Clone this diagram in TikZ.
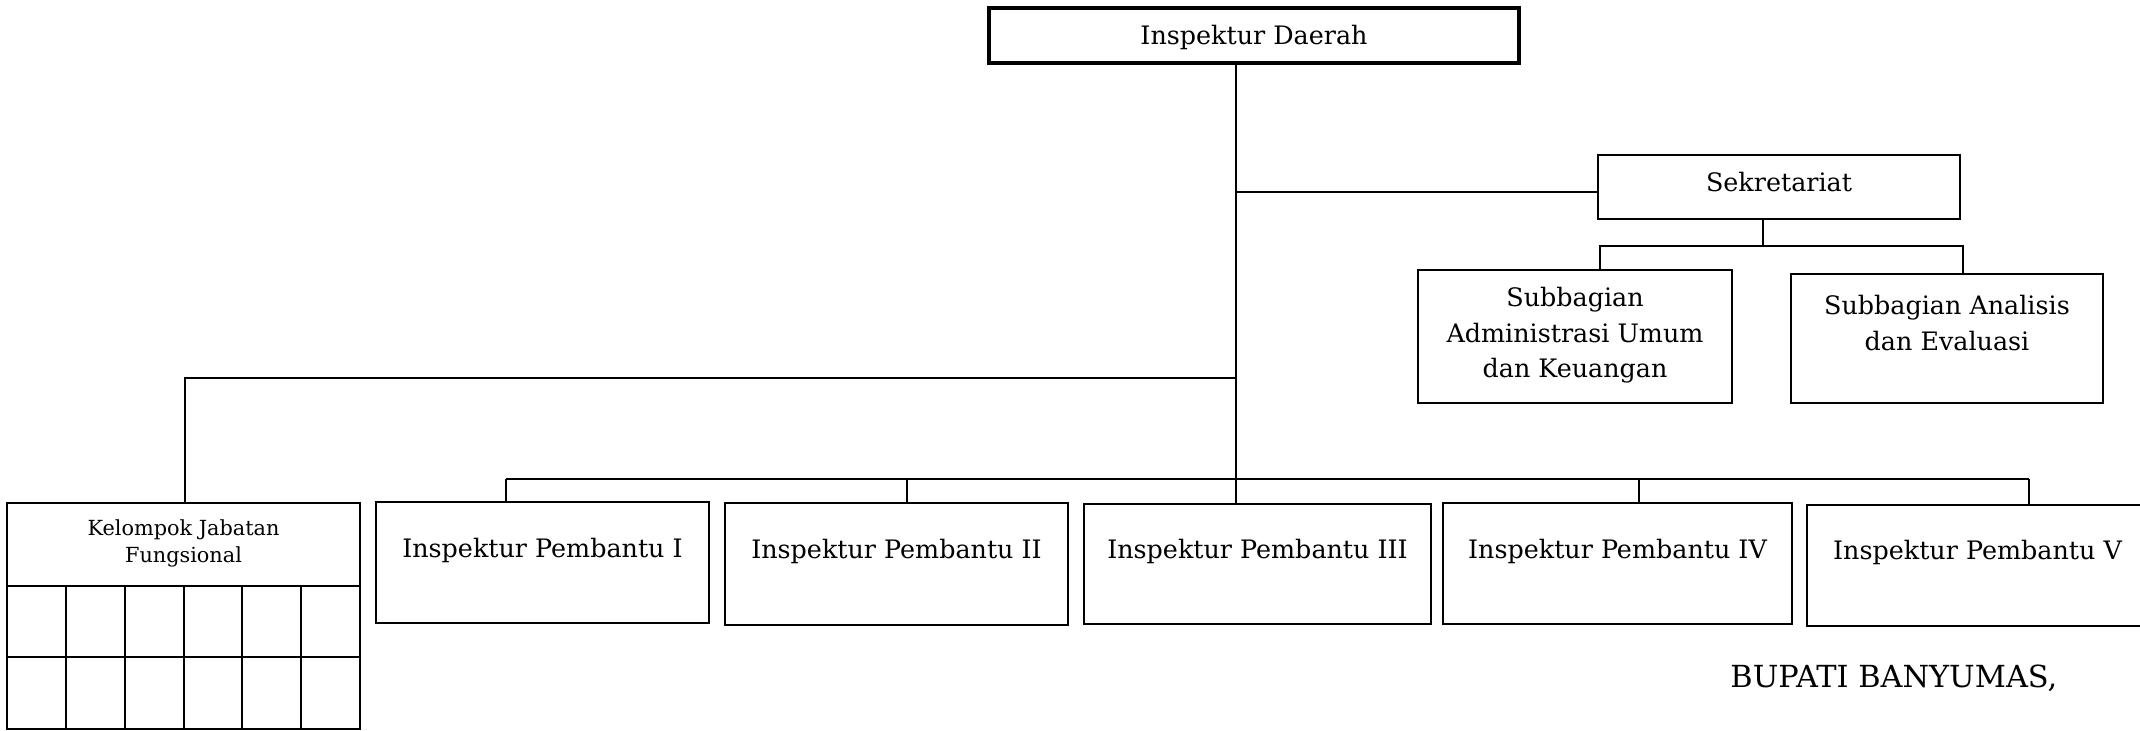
\documentclass[tikz,border=0pt]{standalone}
\usepackage{fontspec}
\setmainfont{DejaVu Serif}
\newcommand{\onel}[2]{\raisebox{#1}[0pt][0pt]{#2}}
\newcommand{\mlines}[2]{\raisebox{#1}[0pt][0pt]{\begin{tabular}[t]{@{}c@{}}#2\end{tabular}}}
\begin{document}
\begin{tikzpicture}[x=0.5pt,y=-0.5pt,
  box/.style={draw, line width=1.45pt, rectangle, inner sep=0pt, outer sep=0pt,
    font=\fontsize{12.7}{17.75}\selectfont},
  link/.style={line width=1.3pt},
  gridline/.style={line width=1.45pt}]
\useasboundingbox (0,0) rectangle (2140,731);
\clip (0,0) rectangle (2140,731);

% boxes
\node[box, line width=2.35pt, minimum width=265pt, minimum height=27.5pt] (dae) at (1254,35.5) {\onel{-4.75pt}{Inspektur Daerah}};
\node[box, minimum width=181pt, minimum height=32pt] (sek) at (1779,187) {\onel{-2.5pt}{Sekretariat}};
\node[box, minimum width=157pt, minimum height=66.5pt] (adm) at (1575,336.5) {\mlines{14.75pt}{Subbagian\\Administrasi Umum\\dan Keuangan}};
\node[box, minimum width=156pt, minimum height=64.5pt] (ana) at (1947,338.5) {\mlines{11.75pt}{Subbagian Analisis\\dan Evaluasi}};
\node[box, minimum width=176.5pt, minimum height=41.5pt, font=\fontsize{10.4}{13.5}\selectfont] (kel) at (183.5,544.5) {\mlines{4.25pt}{Kelompok Jabatan\\Fungsional}};
\node[box, minimum width=166.5pt, minimum height=60.5pt] (p1) at (542.5,562.5) {\onel{2.75pt}{Inspektur Pembantu I}};
\node[box, minimum width=171.5pt, minimum height=61pt] (p2) at (896.5,564) {\onel{2.5pt}{Inspektur Pembantu II}};
\node[box, minimum width=173.5pt, minimum height=60pt] (p3) at (1257.5,564) {\onel{2.5pt}{Inspektur Pembantu III}};
\node[box, minimum width=174.5pt, minimum height=60.5pt] (p4) at (1617.5,563.5) {\onel{2.25pt}{Inspektur Pembantu IV}};
\node[box, minimum width=170.5pt, minimum height=60.5pt] (p5) at (1977.5,565.5) {\onel{2.75pt}{Inspektur Pembantu V}};

% grid under Kelompok Jabatan Fungsional
\draw[gridline] (7,586) rectangle (360,729);
\draw[gridline] (7,657) -- (360,657);
\foreach \gx in {66,125,184,242,301} \draw[gridline] (\gx,586) -- (\gx,729);

% signature text
\node[anchor=base west, inner sep=0pt, font=\fontsize{15.2}{18}\selectfont] (bup) at (1730,687) {BUPATI BANYUMAS,};

% connectors
\coordinate (trunk) at (1236,0);
\draw[link] (trunk |- dae.south) -- (trunk |- p3.north);
\coordinate (sj) at (1236,192);
\draw[link] (sj) -- (sj -| sek.west);
\coordinate (sb) at (1763,246);
\coordinate (sbl) at (1600,246);
\coordinate (sbr) at (1963,246);
\draw[link] (sb |- sek.south) -- (sb);
\draw[link] (sbl |- adm.north) -- (sbl) -- (sbr) -- (sbr |- ana.north);
\coordinate (kj) at (185,378);
\draw[link] (trunk |- kj) -- (kj) -- (kj |- kel.north);
\coordinate (b1) at (506,479);
\coordinate (b2) at (907,479);
\coordinate (b3) at (1236,479);
\coordinate (b4) at (1639,479);
\coordinate (b5) at (2029,479);
\draw[link] (b1) -- (b5);
\draw[link] (b1) -- (b1 |- p1.north);
\draw[link] (b2) -- (b2 |- p2.north);
\draw[link] (b4) -- (b4 |- p4.north);
\draw[link] (b5) -- (b5 |- p5.north);
\end{tikzpicture}
\end{document}
